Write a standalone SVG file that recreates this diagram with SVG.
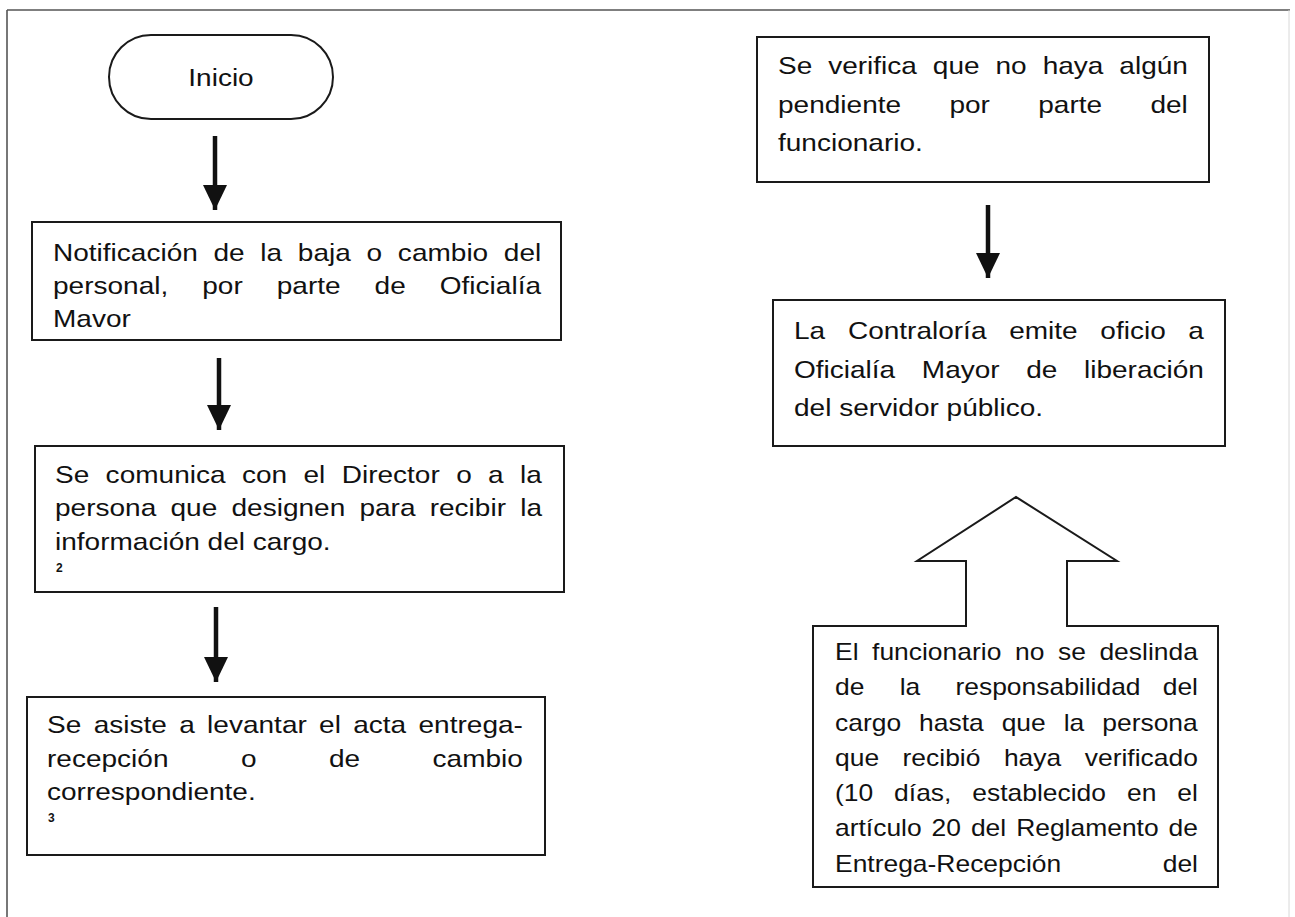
<svg xmlns="http://www.w3.org/2000/svg" width="1295" height="917" viewBox="0 0 1295 917">
<style>
.bx{fill:#fff;stroke:#1a1a1a;stroke-width:2}
.t{font-family:"Liberation Sans",Arial,sans-serif;font-size:24.8px;fill:#111}
.tb{font-family:"Liberation Sans",Arial,sans-serif;font-size:23.4px;fill:#111}
.fn{font-family:"Liberation Sans",Arial,sans-serif;font-size:12px;font-weight:bold;fill:#111}
.cn{stroke:#111;stroke-width:4.5;fill:none}
</style>
<defs>
<marker id="ah" viewBox="0 0 25 24" refX="25" refY="12" markerWidth="25" markerHeight="24" markerUnits="userSpaceOnUse" orient="auto">
<path d="M0,0 L25,12 L0,24 Z" fill="#111"/>
</marker>
</defs>
<rect width="1295" height="917" fill="#fff"/>
<g id="frame">
<line x1="7" y1="10" x2="1290" y2="10" stroke="#555" stroke-width="1.6"/>
<line x1="7" y1="10" x2="7" y2="917" stroke="#555" stroke-width="1.6"/>
<line x1="1289" y1="10" x2="1289" y2="917" stroke="#d8d8d8" stroke-width="1"/>
</g>
<g id="connectors">
<line class="cn" x1="215" y1="136" x2="215" y2="210" marker-end="url(#ah)"/>
<line class="cn" x1="219" y1="358" x2="219" y2="430" marker-end="url(#ah)"/>
<line class="cn" x1="216" y1="607" x2="216" y2="682" marker-end="url(#ah)"/>
<line class="cn" x1="988" y1="205" x2="988" y2="278" marker-end="url(#ah)"/>
</g>
<g id="inicio">
<rect class="bx" x="109" y="35" width="224" height="84" rx="42" ry="42" stroke-width="1.8"/>
<text class="t" transform="translate(221,0) scale(1.13,1)" x="0" y="86" text-anchor="middle">Inicio</text>
</g>
<g id="notificacion">
<rect class="bx" x="32" y="222" width="529" height="118"/>
<text class="t" transform="translate(53,0) scale(1.13,1)">
<tspan x="0" y="261">Notificación</tspan><tspan x="142" y="261">de</tspan><tspan x="183.5" y="261">la</tspan><tspan x="216.7" y="261">baja</tspan><tspan x="277.5" y="261">o</tspan><tspan x="305.2" y="261">cambio</tspan><tspan x="399" y="261">del</tspan>
<tspan x="0" y="294">personal,</tspan><tspan x="132.1" y="294">por</tspan><tspan x="198" y="294">parte</tspan><tspan x="284.6" y="294">de</tspan><tspan x="342.3" y="294">Oficialía</tspan>
<tspan x="0" y="327">Mavor</tspan>
</text>
</g>
<g id="comunica">
<rect class="bx" x="35" y="446" width="529" height="146"/>
<text class="t" transform="translate(55,0) scale(1.13,1)">
<tspan x="0" y="483">Se</tspan><tspan x="44.8" y="483">comunica</tspan><tspan x="165.4" y="483">con</tspan><tspan x="219.9" y="483">el</tspan><tspan x="253.7" y="483">Director</tspan><tspan x="355" y="483">o</tspan><tspan x="383.3" y="483">a</tspan><tspan x="411.6" y="483">la</tspan>
<tspan x="0" y="516">persona</tspan><tspan x="102.2" y="516">que</tspan><tspan x="156.2" y="516">designen</tspan><tspan x="269.4" y="516">para</tspan><tspan x="331.6" y="516">recibir</tspan><tspan x="411.7" y="516">la</tspan>
<tspan x="0" y="550">información del cargo.</tspan>
</text>
<text class="fn" x="56" y="572">2</text>
</g>
<g id="asiste">
<rect class="bx" x="27" y="697" width="518" height="158"/>
<text class="t" transform="translate(47,0) scale(1.13,1)">
<tspan x="0" y="733">Se</tspan><tspan x="41.3" y="733">asiste</tspan><tspan x="117" y="733">a</tspan><tspan x="141.7" y="733">levantar</tspan><tspan x="240.8" y="733">el</tspan><tspan x="271" y="733">acta</tspan><tspan x="328.8" y="733">entrega-</tspan>
<tspan x="0" y="767">recepción</tspan><tspan x="171.6" y="767">o</tspan><tspan x="249.5" y="767">de</tspan><tspan x="341.2" y="767">cambio</tspan>
<tspan x="0" y="800">correspondiente.</tspan>
</text>
<text class="fn" x="48" y="822">3</text>
</g>
<g id="verifica">
<rect class="bx" x="757" y="37" width="452" height="145"/>
<text class="t" transform="translate(778,0) scale(1.13,1)">
<tspan x="0" y="74">Se</tspan><tspan x="44.4" y="74">verifica</tspan><tspan x="137" y="74">que</tspan><tspan x="192.5" y="74">no</tspan><tspan x="234.2" y="74">haya</tspan><tspan x="302.1" y="74">algún</tspan>
<tspan x="0" y="113">pendiente</tspan><tspan x="151.7" y="113">por</tspan><tspan x="230.3" y="113">parte</tspan><tspan x="329.6" y="113">del</tspan>
<tspan x="0" y="151">funcionario.</tspan>
</text>
</g>
<g id="contraloria">
<rect class="bx" x="773" y="300" width="452" height="146"/>
<text class="t" transform="translate(794,0) scale(1.13,1)">
<tspan x="0" y="339">La</tspan><tspan x="47.7" y="339">Contraloría</tspan><tspan x="190.4" y="339">emite</tspan><tspan x="271.1" y="339">oficio</tspan><tspan x="349" y="339">a</tspan>
<tspan x="0" y="378">Oficialía</tspan><tspan x="113.1" y="378">Mayor</tspan><tspan x="205.5" y="378">de</tspan><tspan x="256.6" y="378">liberación</tspan>
<tspan x="0" y="416">del servidor público.</tspan>
</text>
</g>
<g id="funcionario">
<path class="bx" d="M813,626 L966,626 L966,561 L917,561 L1016,497 L1117,561 L1067,561 L1067,626 L1218,626 L1218,887 L813,887 Z" stroke-linejoin="miter"/>
<text class="tb" transform="translate(835,0) scale(1.13,1)">
<tspan x="0" y="660">El</tspan><tspan x="32.8" y="660">funcionario</tspan><tspan x="159.3" y="660">no</tspan><tspan x="197.3" y="660">se</tspan><tspan x="234" y="660">deslinda</tspan>
<tspan x="0" y="695">de</tspan><tspan x="57.2" y="695">la</tspan><tspan x="106.6" y="695">responsabilidad</tspan><tspan x="290" y="695">del</tspan>
<tspan x="0" y="731">cargo</tspan><tspan x="74.4" y="731">hasta</tspan><tspan x="147.5" y="731">que</tspan><tspan x="202.4" y="731">la</tspan><tspan x="236.5" y="731">persona</tspan>
<tspan x="0" y="766">que</tspan><tspan x="59.8" y="766">recibió</tspan><tspan x="149.5" y="766">haya</tspan><tspan x="221" y="766">verificado</tspan>
<tspan x="0" y="801">(10</tspan><tspan x="52.3" y="801">días,</tspan><tspan x="121.5" y="801">establecido</tspan><tspan x="258.4" y="801">en</tspan><tspan x="302.9" y="801">el</tspan>
<tspan x="0" y="836">artículo</tspan><tspan x="85.5" y="836">20</tspan><tspan x="120.3" y="836">del</tspan><tspan x="160.3" y="836">Reglamento</tspan><tspan x="295.2" y="836">de</tspan>
<tspan x="0" y="872">Entrega-Recepción</tspan><tspan x="290" y="872">del</tspan>
</text>
</g>
</svg>
